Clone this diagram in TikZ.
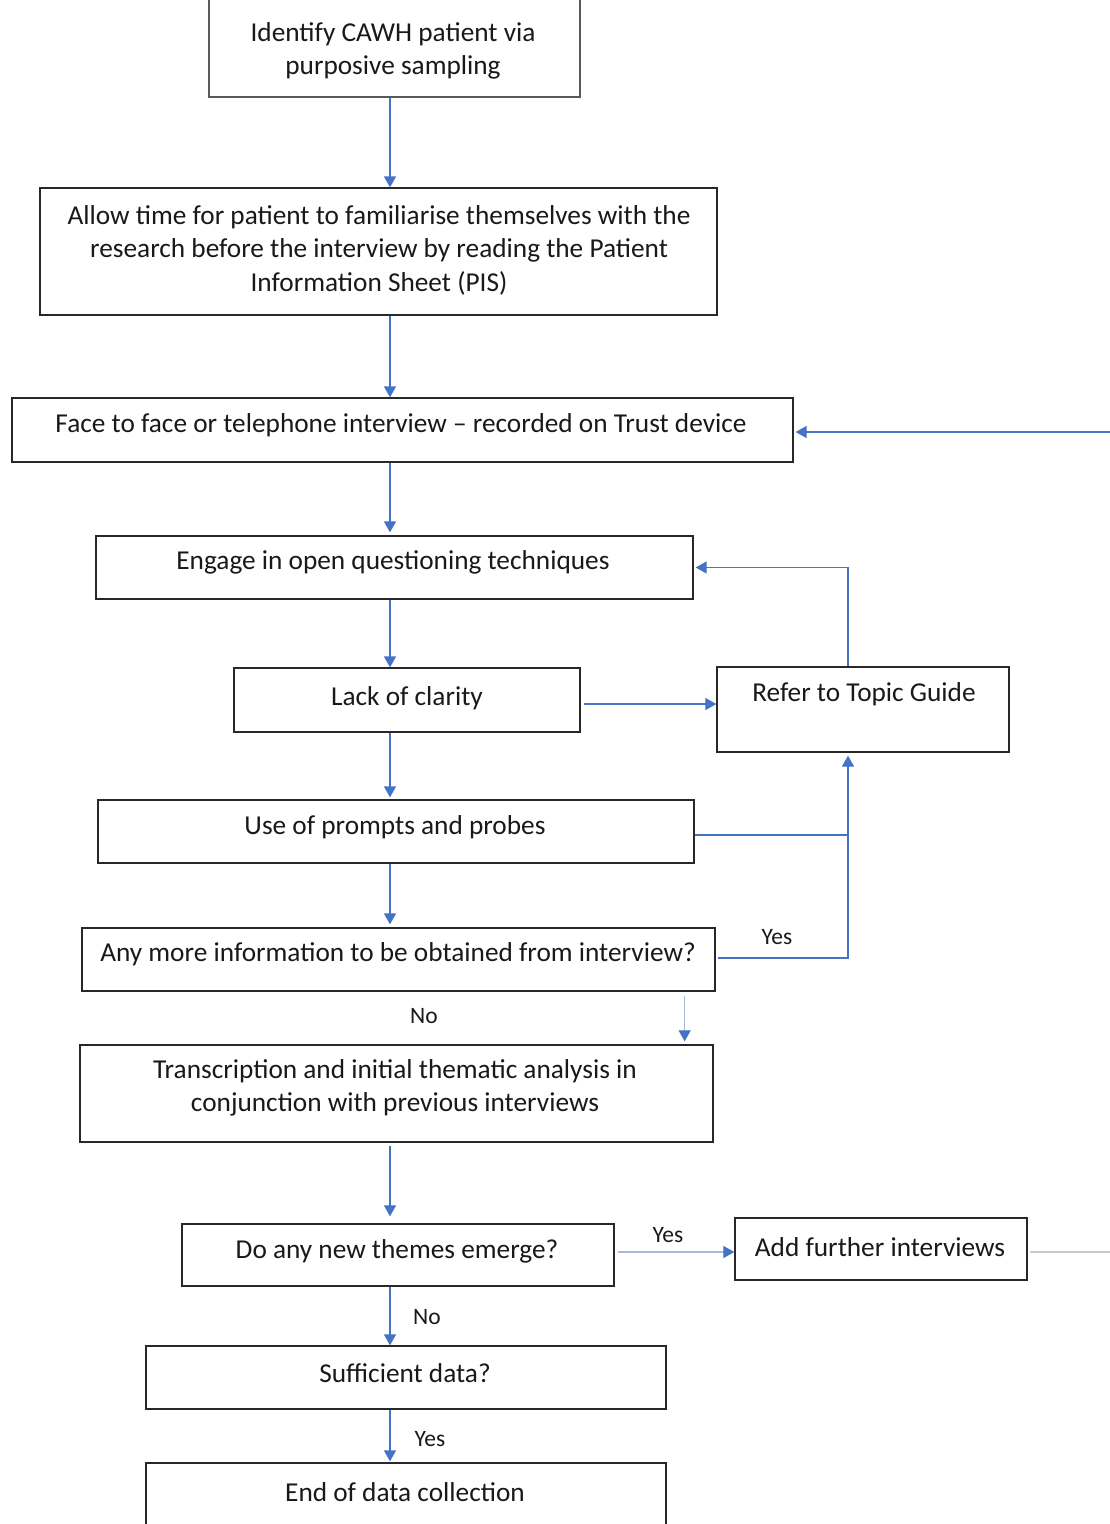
\documentclass[tikz,border=0pt]{standalone}
\usepackage{fontspec}
\setmainfont{Carlito}
\usetikzlibrary{arrows.meta,calc}
\definecolor{arrblue}{RGB}{68,114,196}
\definecolor{lightblue}{RGB}{170,185,220}
\definecolor{greyline}{RGB}{200,202,210}
\definecolor{boxline}{RGB}{40,40,40}
\begin{document}
\begin{tikzpicture}[x=1pt,y=-1pt,
  box/.style={draw=boxline,line width=1.3pt,rectangle,inner sep=0pt},
  txt/.style={inner sep=0pt,align=center,text=black!90,font=\fontsize{27.3}{33.5}\selectfont},
  lbl/.style={inner sep=0pt,text=black!90,font=\fontsize{23.5}{26}\selectfont},
  arr/.style={draw=arrblue,line width=1.3pt,-{Triangle[width=12pt,length=11pt]}},
  arrl/.style={draw=lightblue,line width=1.1pt,-{Triangle[width=12pt,length=11pt,color=arrblue]}},
  ln/.style={draw=arrblue,line width=1.3pt}]
\useasboundingbox (0,0) rectangle (1110,1524);
\clip (0,0) rectangle (1110,1524);
\fill[white] (0,0) rectangle (1110,1524);
\coordinate (ax) at (390,0);
\coordinate (ex) at (1110,432);
\coordinate (tg) at (848,0);
% boxes
\node[box,draw=gray!70!black,minimum width=371pt,minimum height=117pt] (b1) at (394.5,38.5) {};
\node[txt] (t1) at (393,51) {Identify CAWH patient via\\purposive sampling};
\node[box,minimum width=677pt,minimum height=127pt] (b2) at (378.5,251.5) {};
\node[txt] (t2) at (379,250) {Allow time for patient to familiarise themselves with the\\research before the interview by reading the Patient\\Information Sheet (PIS)};
\node[box,minimum width=781pt,minimum height=64pt] (b3) at (402.5,430) {};
\node[txt] (t3) at (401,425.5) {Face to face or telephone interview -- recorded on Trust device};
\node[box,minimum width=597pt,minimum height=63pt] (b4) at (394.5,567.5) {};
\node[txt] (t4) at (393,562.5) {Engage in open questioning techniques};
\node[box,minimum width=346pt,minimum height=64pt] (b5) at (407,700) {};
\node[txt] (t5) at (407,698.5) {Lack of clarity};
\node[box,minimum width=292pt,minimum height=85pt] (b6) at (863,709.5) {};
\node[txt] (t6) at (864,694.5) {Refer to Topic Guide};
\node[box,minimum width=596pt,minimum height=63pt] (b7) at (396,831.5) {};
\node[txt] (t7) at (395,827.5) {Use of prompts and probes};
\node[box,minimum width=633pt,minimum height=63pt] (b8) at (398.5,959.5) {};
\node[txt] (t8) at (398,954.5) {Any more information to be obtained from interview?};
\node[box,minimum width=633pt,minimum height=97pt] (b9) at (396.5,1093.5) {};
\node[txt] (t9) at (395,1088) {Transcription and initial thematic analysis in\\conjunction with previous interviews};
\node[box,minimum width=432pt,minimum height=62pt] (b10) at (398,1255) {};
\node[txt] (t10) at (397,1251.5) {Do any new themes emerge?};
\node[box,minimum width=292pt,minimum height=62pt] (b11) at (881,1249) {};
\node[txt] (t11) at (880,1247.5) {Add further interviews};
\node[box,minimum width=520pt,minimum height=63pt] (b12) at (406,1377.5) {};
\node[txt] (t12) at (405,1373.5) {Sufficient data?};
\node[box,minimum width=520pt,minimum height=100pt] (b13) at (406,1513) {};
\node[txt] (t13) at (405,1492.5) {End of data collection};
% labels
\node[lbl] (l1) at (777,937) {Yes};
\node[lbl] (l2) at (424,1016) {No};
\node[lbl] (l3) at (668,1235) {Yes};
\node[lbl] (l4) at (427,1317) {No};
\node[lbl] (l5) at (430,1439) {Yes};
% helper coordinates (yshift is upward on the page)
\coordinate (p7) at ([yshift=-3.5pt]b7.east);
\coordinate (p8) at ([xshift=2pt,yshift=1.5pt]b8.east);
\coordinate (p6) at ([yshift=-3pt]b6.south -| tg);
% main vertical arrows
\draw[arr] (b1.south -| ax) -- (b2.north -| ax);
\draw[arr] (b2.south -| ax) -- (b3.north -| ax);
\draw[arr] (b3.south -| ax) -- ([yshift=3pt]b4.north -| ax);
\draw[arr] (b4.south -| ax) -- (b5.north -| ax);
\draw[arr] (b5.south -| ax) -- ([yshift=2pt]b7.north -| ax);
\draw[arr] (b7.south -| ax) -- ([yshift=3pt]b8.north -| ax);
\draw[arr] ([yshift=-3pt]b9.south -| ax) -- ([yshift=7pt]b10.north -| ax);
\draw[arr] (b10.south -| ax) -- (b12.north -| ax);
\draw[arr] (b12.south -| ax) -- ([yshift=1pt]b13.north -| ax);
% loop from right edge
\draw[arr] (ex) -- ([xshift=2pt]b3.east |- ex);
% Lack of clarity -> Topic guide
\draw[arr,line width=1.1pt] ([xshift=3pt,yshift=-4pt]b5.east) -- ([yshift=5.5pt]b6.west);
% Topic guide -> engage
\draw[arr] (b6.north -| tg) -- (tg |- b4.east) -- ([xshift=2pt]b4.east);
% prompts -> topic guide
\draw[ln] (p7) -- (tg |- p7);
\draw[arr] (p8) -- (tg |- p8) -- (p6);
% No arrow from b8 to b9
\draw[arrl] ([xshift=-31pt,yshift=-4pt]b8.south east) -- ([xshift=-29pt,yshift=3pt]b9.north east);
% Yes -> Add further
\draw[arrl] ([xshift=3pt,yshift=3pt]b10.east) -- ([yshift=-3pt]b11.west);
% line out of Add further
\draw[draw=greyline,line width=1.1pt] ([xshift=2pt,yshift=-3pt]b11.east) -- (1110,1252);
\end{tikzpicture}
\end{document}
